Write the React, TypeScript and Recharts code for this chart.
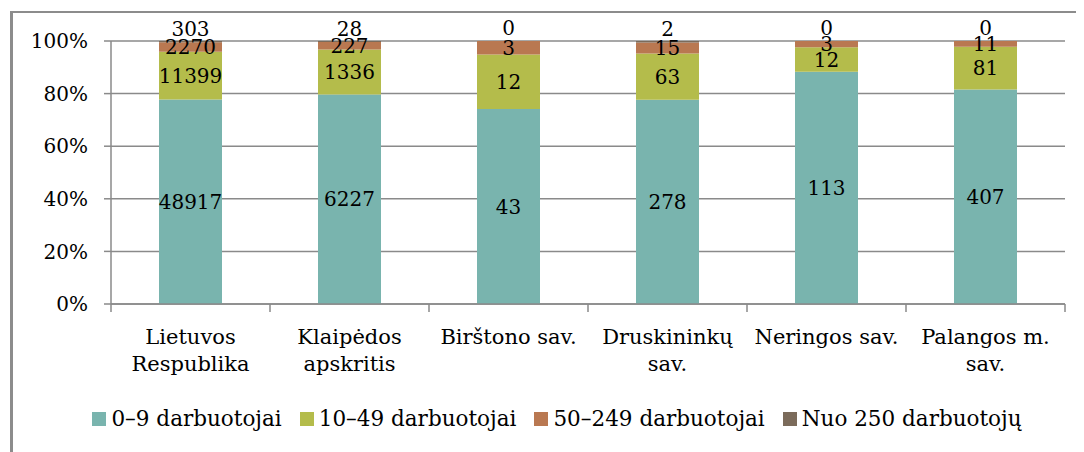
import React from 'react';
import {
  BarChart,
  Bar,
  XAxis,
  YAxis,
  CartesianGrid,
  LabelList,
  Legend,
} from 'recharts';

const categories = [
  'Lietuvos\nRespublika',
  'Klaipėdos\napskritis',
  'Birštono sav.',
  'Druskininkų\nsav.',
  'Neringos sav.',
  'Palangos m.\nsav.',
];
const micro = [48917, 6227, 43, 278, 113, 407];
const small = [11399, 1336, 12, 63, 12, 81];
const medium = [2270, 227, 3, 15, 3, 11];
const large = [303, 28, 0, 2, 0, 0];
const yTicks = [0, 0.2, 0.4, 0.6, 0.8, 1];

const SERIES = [
  { key: 'micro', name: '0–9 darbuotojai', color: '#79b4ae' },
  { key: 'small', name: '10–49 darbuotojai', color: '#b4bc4b' },
  { key: 'medium', name: '50–249 darbuotojai', color: '#b97851' },
  { key: 'large', name: 'Nuo 250 darbuotojų', color: '#7b6b5b' },
];

const data = categories.map((name, i) => ({
  name,
  micro: micro[i],
  small: small[i],
  medium: medium[i],
  large: large[i],
}));

const FONT = '"DejaVu Serif", serif';
const LINE = '#8a8a8a';

function CategoryTick(props: any) {
  const { x, y, payload, index, visibleTicksCount } = props;
  const half = payload && payload.offset ? payload.offset : 79.5;
  const lines = String(payload.value).split('\n');
  return (
    <g>
      <line x1={x - half} x2={x - half} y1={y} y2={y + 8} stroke={LINE} strokeWidth={1.5} />
      {index === visibleTicksCount - 1 && (
        <line x1={x + half} x2={x + half} y1={y} y2={y + 8} stroke={LINE} strokeWidth={1.5} />
      )}
      <text x={x} y={y + 40} textAnchor="middle" fill="#000" fontSize={21} fontFamily={FONT}>
        {lines.map((l, i) => (
          <tspan key={i} x={x} dy={i === 0 ? 0 : 27}>
            {l}
          </tspan>
        ))}
      </text>
    </g>
  );
}

function LegendContent() {
  return (
    <div style={{ display: 'flex', justifyContent: 'center', gap: 18, fontFamily: FONT, fontSize: 21.5 }}>
      {SERIES.map((s) => (
        <div key={s.key} style={{ display: 'flex', alignItems: 'center', gap: 5 }}>
          <span style={{ width: 14, height: 14, background: s.color, display: 'inline-block' }} />
          <span style={{ color: '#000' }}>{s.name}</span>
        </div>
      ))}
    </div>
  );
}

// the top series is often zero-height, so its numbers are hung on the stack below it
const renderTopLabel = (props: any) => {
  const { x, y, width, value } = props;
  return (
    <text x={x + width / 2} y={y - 6} textAnchor="middle" fill="#000" fontSize={20} fontFamily={FONT}>
      {String(value)}
    </text>
  );
};

export default function App() {
  return (
    <div style={{ position: 'relative', width: 1076, height: 444, fontFamily: FONT }}>
      <div
        style={{
          position: 'absolute',
          left: 2,
          top: 3,
          width: 1100,
          height: 500,
          borderLeft: '3px solid #8c8c8c',
          borderTop: '2px solid #8c8c8c',
          boxSizing: 'border-box',
        }}
      />
      <div style={{ position: 'absolute', left: 0, top: 0 }}>
        <BarChart
          width={1076}
          height={444}
          data={data}
          stackOffset="expand"
          barSize={63}
          margin={{ top: 33, right: 19, left: 0, bottom: 68 }}
        >
          <CartesianGrid horizontal vertical={false} stroke={LINE} strokeWidth={1.5} />
          <XAxis
            dataKey="name"
            height={80}
            interval={0}
            axisLine={{ stroke: LINE, strokeWidth: 1.5 }}
            tickLine={false}
            tickSize={0}
            tickMargin={0}
            tick={<CategoryTick />}
          />
          <YAxis
            width={103}
            domain={[0, 1]}
            ticks={yTicks}
            tickFormatter={(v: number) => `${Math.round(v * 100)}%`}
            axisLine={{ stroke: LINE, strokeWidth: 1.5 }}
            tickLine={{ stroke: LINE, strokeWidth: 1.5 }}
            tickSize={7}
            tickMargin={16}
            tick={{ fill: '#000', fontSize: 20, fontFamily: FONT }}
          />
          <Legend
            verticalAlign="middle"
            align="center"
            content={<LegendContent />}
            wrapperStyle={{ top: 398, left: 22, width: 1054 }}
          />
          <Bar dataKey="micro" name={SERIES[0].name} stackId="a" fill={SERIES[0].color} isAnimationActive={false}>
            <LabelList dataKey="micro" position="center" fill="#000" fontSize={20} fontFamily={FONT} />
          </Bar>
          <Bar dataKey="small" name={SERIES[1].name} stackId="a" fill={SERIES[1].color} isAnimationActive={false}>
            <LabelList dataKey="small" position="center" fill="#000" fontSize={20} fontFamily={FONT} />
          </Bar>
          <Bar dataKey="medium" name={SERIES[2].name} stackId="a" fill={SERIES[2].color} isAnimationActive={false}>
            <LabelList dataKey="medium" position="center" fill="#000" fontSize={20} fontFamily={FONT} />
            <LabelList dataKey="large" content={renderTopLabel} />
          </Bar>
          <Bar dataKey="large" name={SERIES[3].name} stackId="a" fill={SERIES[3].color} isAnimationActive={false} />
        </BarChart>
      </div>
    </div>
  );
}
